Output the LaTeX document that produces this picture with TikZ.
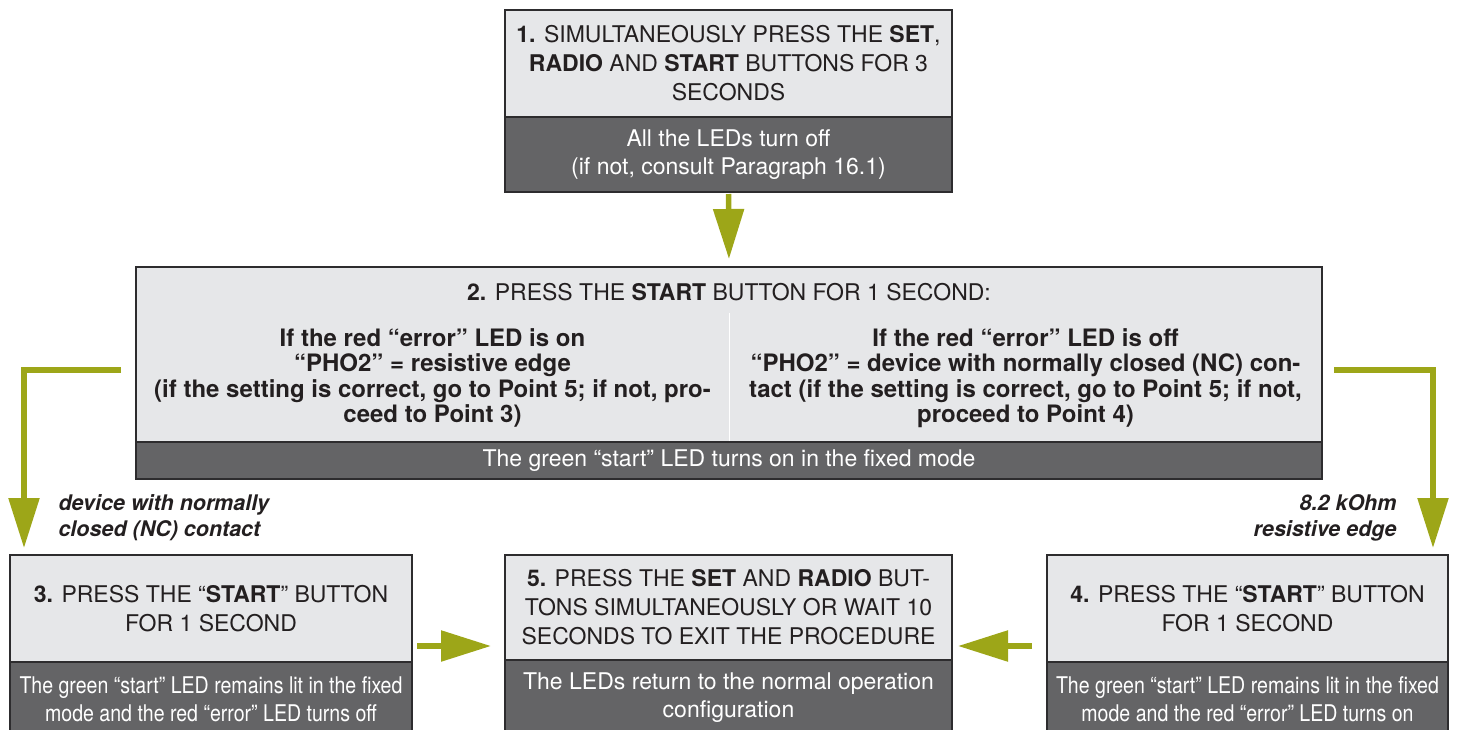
\documentclass[tikz,border=0pt]{standalone}
\usepackage{fontspec}
\setmainfont{TeX Gyre Heros}
\newfontfamily\condfont[FakeStretch=0.85]{TeX Gyre Heros}
\usetikzlibrary{arrows.meta}
\definecolor{boxlight}{RGB}{230,231,233}
\definecolor{boxdark}{RGB}{100,100,102}
\definecolor{boxline}{RGB}{45,44,46}
\definecolor{olive}{RGB}{157,166,24}
\definecolor{ink}{RGB}{35,31,32}
\tikzset{
  lightbox/.style={draw=boxline, line width=2pt, fill=boxlight, inner sep=0pt, align=center, text=ink, font=\fontsize{23}{29}\selectfont},
  darkbox/.style={draw=boxline, line width=2pt, fill=boxdark, inner sep=0pt, align=center, text=white, font=\fontsize{23}{28}\selectfont},
  choice/.style={align=center, text=ink, font=\fontsize{24}{25.5}\selectfont\bfseries},
  note/.style={text=ink, font=\fontsize{21.5}{26}\selectfont\bfseries\itshape},
  flow/.style={draw=olive, line width=5.5pt, -{Triangle[length=50pt,width=30pt]}}
}
\begin{document}
\begin{tikzpicture}[x=1pt,y=-1pt]
\useasboundingbox (0,0) rectangle (1457,729);
\node[lightbox, minimum width=447pt, minimum height=107pt] (s1t) at (728.5,63.5) {\textbf{1.} SIMULTANEOUSLY PRESS THE \textbf{SET},\\\textbf{RADIO} AND \textbf{START} BUTTONS FOR 3\\SECONDS};
\node[darkbox, minimum width=447pt, minimum height=75pt] (s1b) at (728.5,154.5) {All the LEDs turn off\\(if not, consult Paragraph 16.1)};
\node[lightbox, minimum width=1186pt, minimum height=175pt] (s2t) at (729,354.5) {};
\node[darkbox, minimum width=1186pt, minimum height=37pt] (s2b) at (729,460.5) {The green “start” LED turns on in the fixed mode};
\draw[white, line width=1pt] (729,313) -- (729,441);
\node[text=ink, font=\fontsize{23}{29}\selectfont] (s2h) at (729,292) {\textbf{2.} PRESS THE \textbf{START} BUTTON FOR 1 SECOND:};
\node[choice] (s2l) at (432.5,378) {If the red “error” LED is on\\“PHO2” = resistive edge\\(if the setting is correct, go to Point 5; if not, pro-\\ceed to Point 3)};
\node[choice] (s2r) at (1025.5,378) {If the red “error” LED is off\\“PHO2” = device with normally closed (NC) con-\\tact (if the setting is correct, go to Point 5; if not,\\proceed to Point 4)};
\node[lightbox, minimum width=402pt, minimum height=107pt] (s3t) at (211,608.5) {\textbf{3.} PRESS THE “\textbf{START}” BUTTON\\FOR 1 SECOND};
\node[darkbox, minimum width=402pt, minimum height=75pt] (s3b) at (211,699.5) {\condfont The green “start” LED remains lit in the fixed\\\condfont mode and the red “error” LED turns off};
\node[lightbox, minimum width=447pt, minimum height=105pt] (s5t) at (728.5,607.5) {\textbf{5.} PRESS THE \textbf{SET} AND \textbf{RADIO} BUT-\\TONS SIMULTANEOUSLY OR WAIT 10\\SECONDS TO EXIT THE PROCEDURE};
\node[darkbox, minimum width=447pt, minimum height=75pt] (s5b) at (728.5,697.5) {The LEDs return to the normal operation\\configuration};
\node[lightbox, minimum width=401pt, minimum height=107pt] (s4t) at (1247.5,608.5) {\textbf{4.} PRESS THE “\textbf{START}” BUTTON\\FOR 1 SECOND};
\node[darkbox, minimum width=401pt, minimum height=75pt] (s4b) at (1247.5,699.5) {\condfont The green “start” LED remains lit in the fixed\\\condfont mode and the red “error” LED turns on};
\node[note, anchor=west, align=left] (n3) at (55,518) {device with normally\\closed (NC) contact};
\node[note, anchor=east, align=right] (n4) at (1400,518) {8.2 kOhm\\resistive edge};
\coordinate (l2) at ([xshift=-14pt,yshift=-15.5pt]s2t.west);
\coordinate (r2) at ([xshift=11pt,yshift=-15.5pt]s2t.east);
\coordinate (a35) at ([yshift=-37.5pt]s3t.east);
\coordinate (a45) at ([yshift=-37.5pt]s4t.west);
\draw[flow, shorten <=1pt, shorten >=7pt] (s1b.south) -- (s2t.north);
\draw[flow, shorten >=6pt] (l2) -| ([xshift=15pt]s3t.north west);
\draw[flow, shorten >=6pt] (r2) -| ([xshift=-16pt]s4t.north east);
\draw[flow, shorten <=4pt, shorten >=13pt] (a35) -- (a35 -| s5t.west);
\draw[flow, shorten <=14pt, shorten >=5pt] (a45) -- (a45 -| s5t.east);
\end{tikzpicture}
\end{document}
